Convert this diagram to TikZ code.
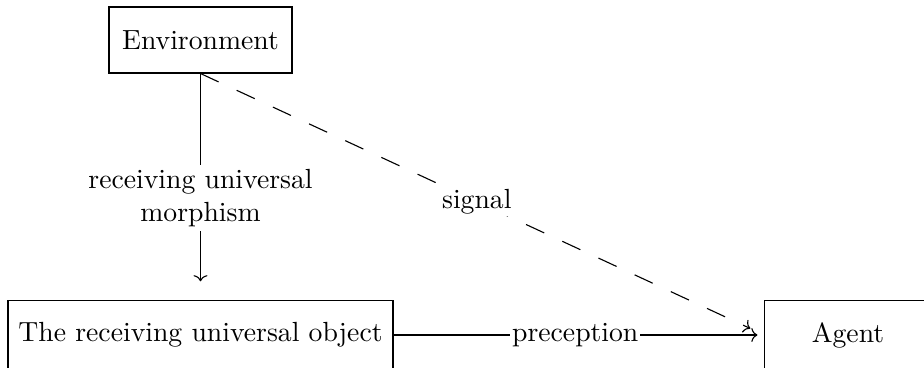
\documentclass[tikz,border=0pt]{standalone}
\usetikzlibrary{arrows.meta}
\begin{document}
\begin{tikzpicture}[x=0.3611pt,y=-0.3611pt,
  box/.style={draw, line width=0.4pt, minimum height=23.8pt, inner sep=0pt},
  conn/.style={line width=0.4pt, -{To[length=2.2pt,width=5pt]}},
  lab/.style={fill=white, inner sep=0.6pt}]
\useasboundingbox (0,0) rectangle (924,367);
\node[box, minimum width=66.1pt] (env) at (200.5,40) {Environment};
\node[box, minimum width=139pt, minimum height=24.6pt] (obj) at (200.5,335) {The receiving universal object};
\node[box, minimum width=60pt, minimum height=24.6pt] (agent) at (848,335) {Agent};
\draw[conn, shorten >=6.9pt] (env.south) -- (obj.north)
  node[lab, pos=0.55, align=center, inner sep=1.5pt] (m) {receiving universal\\morphism};
\draw[conn, shorten >=2.5pt] (obj.east) -- (agent.west)
  node[lab, pos=0.49] (p) {preception};
\draw[conn, dash pattern=on 7.2pt off 7.2pt, shorten >=5.6pt] (env.south) -- (agent.west)
  node[lab, pos=0.49] (s) {signal};
\end{tikzpicture}
\end{document}
